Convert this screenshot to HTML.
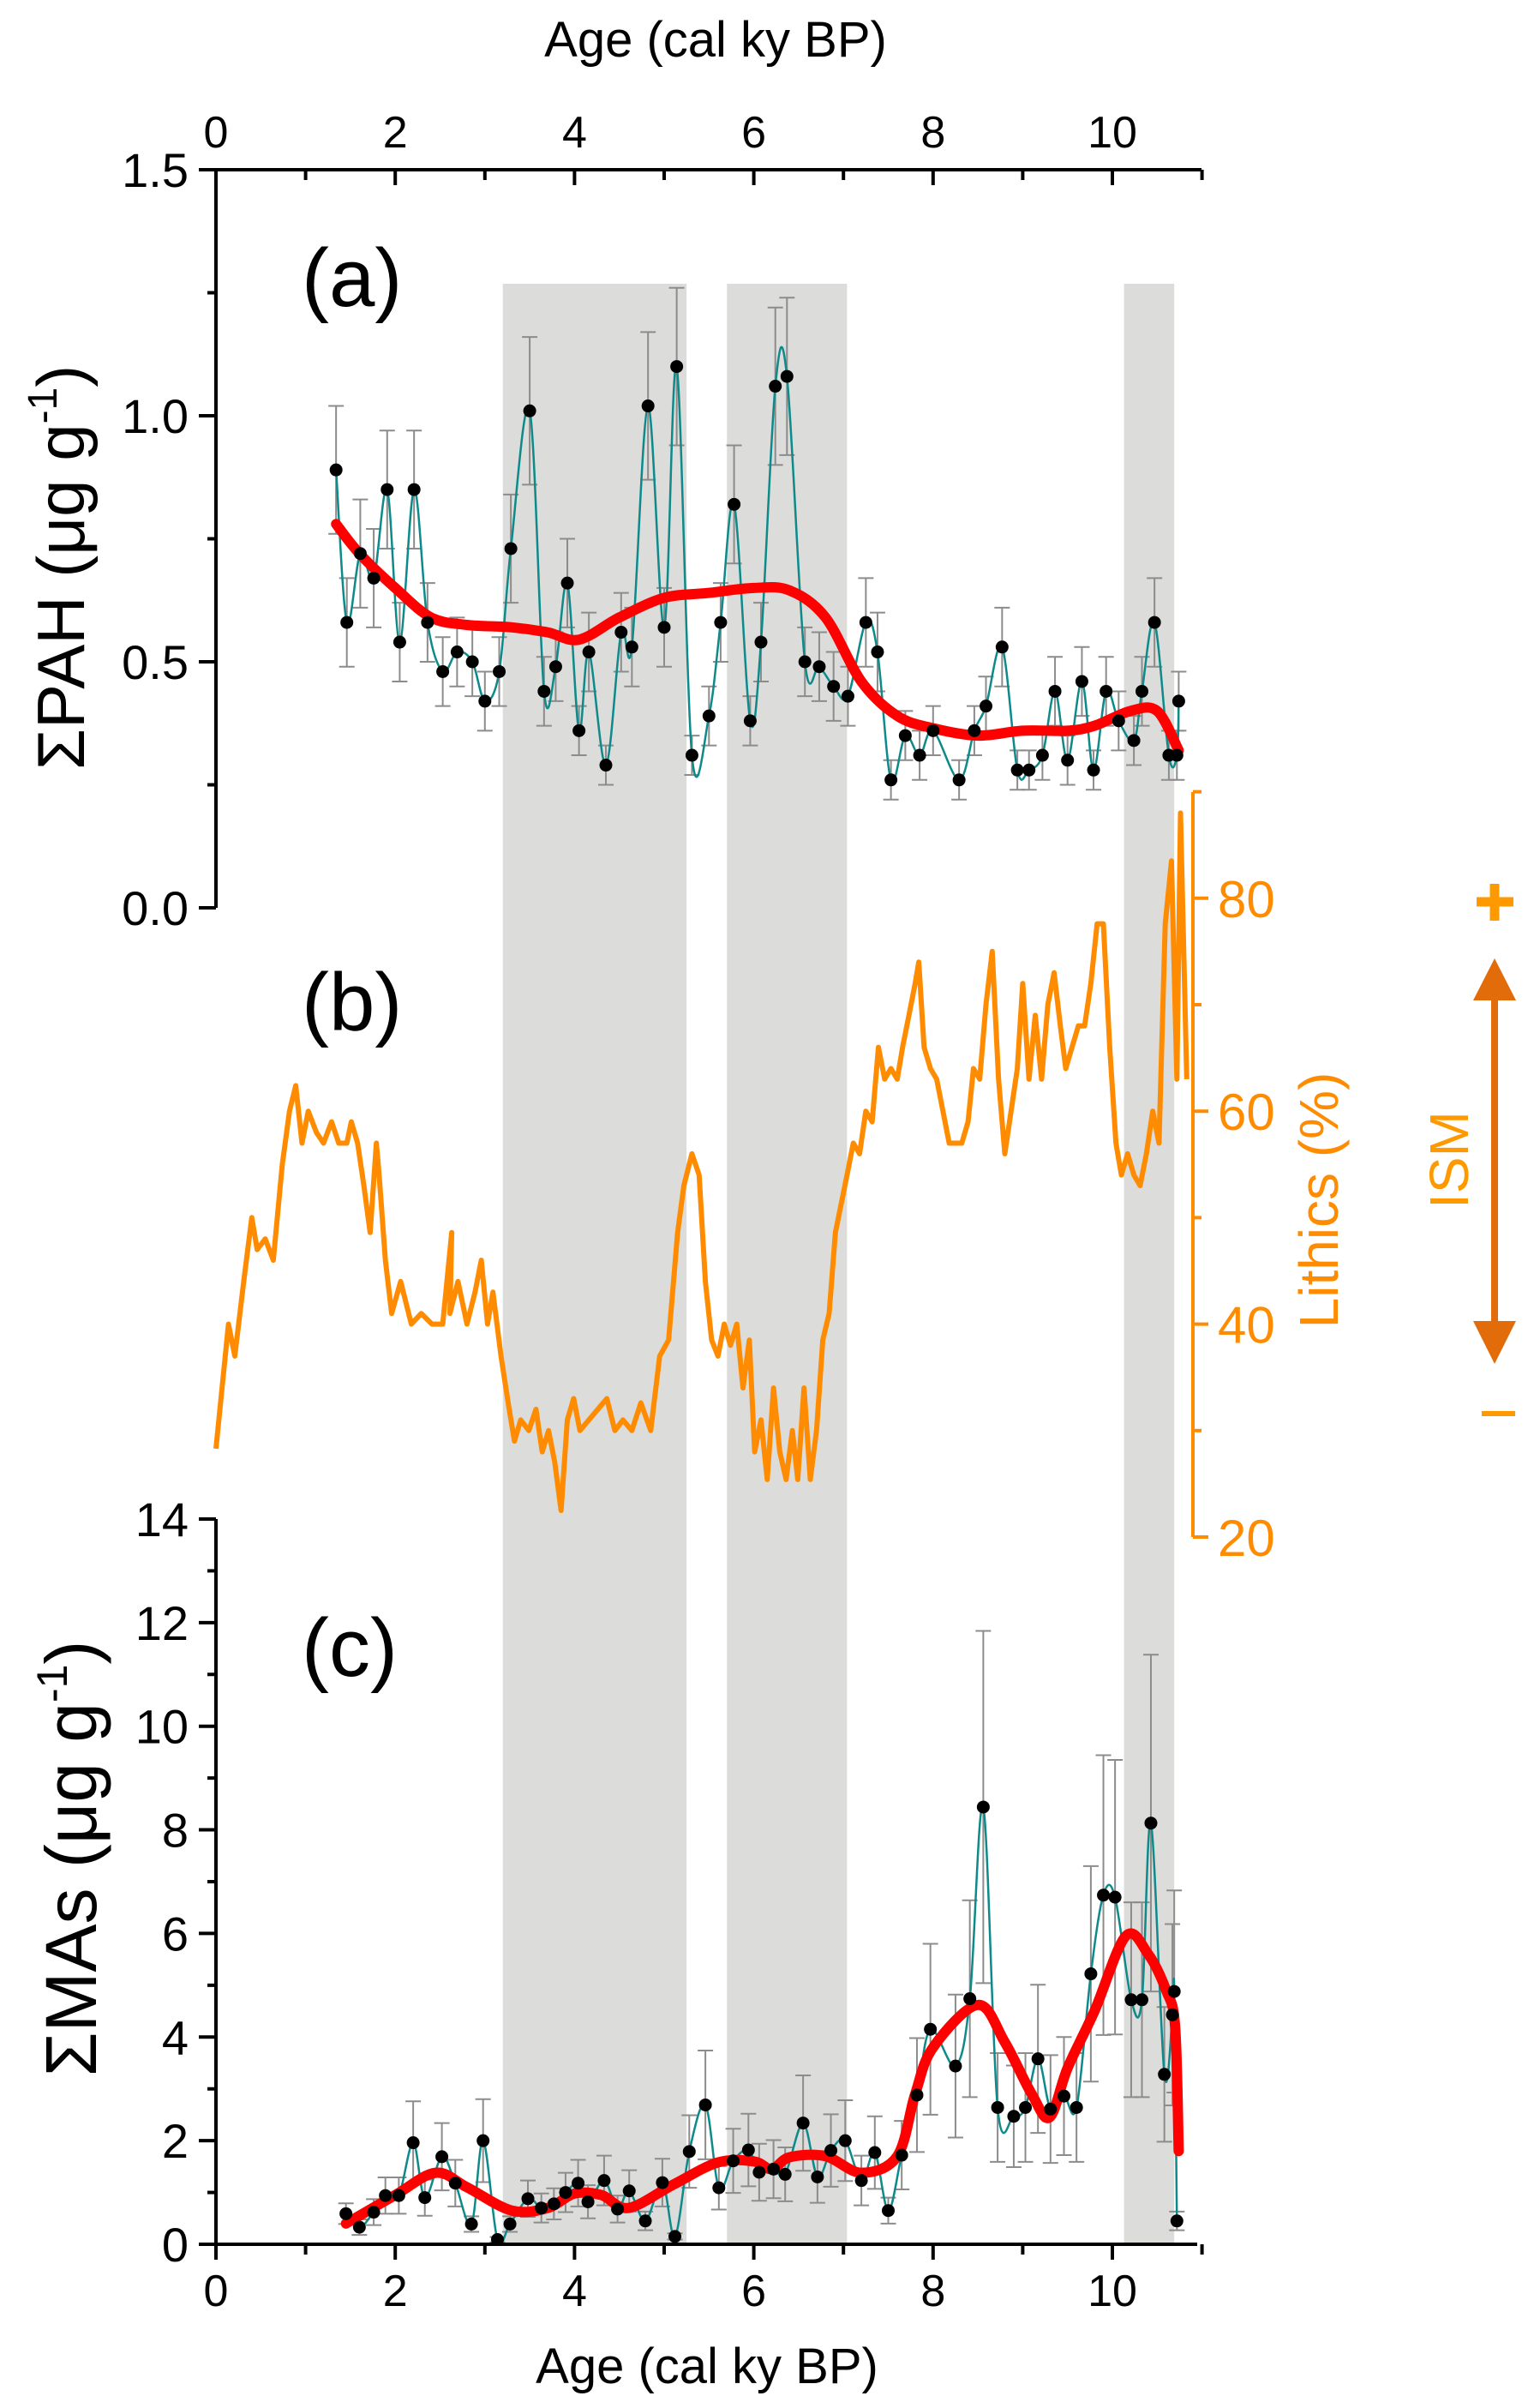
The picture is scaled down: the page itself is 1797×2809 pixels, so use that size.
<!DOCTYPE html>
<html><head><meta charset="utf-8"><style>
html,body{margin:0;padding:0;background:#fff}
svg{display:block}
text{font-family:"Liberation Sans",Arial,sans-serif}
</style></head><body>
<svg id="chart" width="1797" height="2809" viewBox="0 0 1797 2809" xmlns="http://www.w3.org/2000/svg"></svg>
<script>
// ---- data ----
const bandStart = [3.2, 5.7, 10.13];
const bandEnd = [5.25, 7.04, 10.69];
const pahAge = [1.34,1.46,1.61,1.76,1.91,2.05,2.21,2.36,2.53,2.69,2.86,3.0,3.16,3.29,3.5,3.66,3.79,3.92,4.05,4.16,4.35,4.52,4.64,4.82,5.0,5.14,5.31,5.5,5.63,5.78,5.96,6.08,6.24,6.37,6.57,6.73,6.89,7.05,7.25,7.38,7.53,7.69,7.85,8.0,8.29,8.46,8.59,8.77,8.94,9.07,9.22,9.36,9.5,9.66,9.79,9.93,10.07,10.24,10.33,10.47,10.63,10.72,10.74];
const pahVal = [0.89,0.58,0.72,0.67,0.85,0.54,0.85,0.58,0.48,0.52,0.50,0.42,0.48,0.73,1.01,0.44,0.49,0.66,0.36,0.52,0.29,0.56,0.53,1.02,0.57,1.10,0.31,0.39,0.58,0.82,0.38,0.54,1.06,1.08,0.50,0.49,0.45,0.43,0.58,0.52,0.26,0.35,0.31,0.36,0.26,0.36,0.41,0.53,0.28,0.28,0.31,0.44,0.30,0.46,0.28,0.44,0.38,0.34,0.44,0.58,0.31,0.31,0.42];
const pahErr = [0.13,0.09,0.11,0.10,0.12,0.08,0.12,0.08,0.07,0.07,0.07,0.06,0.07,0.11,0.15,0.07,0.07,0.09,0.05,0.08,0.04,0.08,0.08,0.15,0.08,0.16,0.04,0.06,0.08,0.12,0.05,0.08,0.16,0.16,0.07,0.07,0.07,0.06,0.09,0.08,0.04,0.05,0.05,0.05,0.04,0.05,0.06,0.08,0.04,0.04,0.05,0.07,0.05,0.07,0.04,0.07,0.06,0.05,0.07,0.09,0.05,0.05,0.06];
const pahSmoothAge = [1.34,1.6,2.0,2.4,2.8,3.3,3.7,4.05,4.5,5.0,5.5,6.0,6.4,6.8,7.2,7.6,8.0,8.5,9.0,9.5,9.8,10.2,10.5,10.74];
const pahSmoothVal = [0.78,0.72,0.65,0.59,0.575,0.57,0.56,0.545,0.59,0.63,0.64,0.65,0.645,0.59,0.46,0.39,0.365,0.35,0.36,0.36,0.37,0.40,0.40,0.32];
const pahTicks = ["0.0","0.5","1.0","1.5"];
const lithAge = [0,0.14,0.21,0.31,0.40,0.46,0.55,0.64,0.74,0.82,0.89,0.96,1.03,1.12,1.20,1.29,1.37,1.46,1.51,1.58,1.65,1.72,1.79,1.82,1.89,1.96,2.06,2.18,2.29,2.41,2.53,2.63,2.61,2.70,2.80,2.89,2.96,3.03,3.09,3.18,3.26,3.33,3.40,3.49,3.57,3.64,3.71,3.78,3.85,3.92,3.99,4.06,4.16,4.26,4.36,4.45,4.54,4.64,4.74,4.85,4.95,5.05,5.15,5.22,5.31,5.39,5.46,5.53,5.60,5.67,5.74,5.81,5.88,5.95,6.01,6.08,6.15,6.22,6.29,6.36,6.43,6.49,6.56,6.63,6.70,6.77,6.84,6.91,6.98,7.04,7.11,7.18,7.25,7.32,7.39,7.46,7.53,7.60,7.66,7.73,7.80,7.84,7.90,7.97,8.04,8.11,8.18,8.25,8.32,8.39,8.45,8.52,8.59,8.66,8.73,8.80,8.87,8.94,9.00,9.07,9.14,9.21,9.28,9.35,9.42,9.48,9.55,9.62,9.69,9.76,9.83,9.90,9.97,10.04,10.10,10.17,10.24,10.31,10.38,10.45,10.52,10.59,10.66,10.72,10.76,10.83,10.90];
const lithVal = [28.3,40,37,44,50,47,48,46,55,60,62.4,57,60,58,57,59,57,57,59,57,53,48.6,57,54,46,41,44,40,41,40,40,48.6,41,44,40,43,46,40,43,37,32.6,29,31,30,32,28,30,27,22.5,31,33,30,31,32,33,30,31,30,32.6,30,37,38.5,48.6,53,56,54,44,38.5,37,40,38,40,34,38.5,28,31,25.4,34,28,25.4,30,25.4,34,25.4,30,38.5,41,48.6,51.5,54,57,56,60,59,66,63,64,63,66,69,72,74,66,64,63,60,57,57,57,59,64,63,70,75,63,56,60,64,72,63,69,63,70,73,68,64,66,68,68,72,77.6,77.6,66,57,54,56,54,53,56,60,57,77.6,83.5,63,88,63];
const lithTicks = ["20","40","60","80"];
const maAge = [1.45,1.6,1.76,1.89,2.04,2.2,2.33,2.52,2.67,2.85,2.98,3.14,3.28,3.48,3.63,3.77,3.9,4.04,4.15,4.33,4.48,4.61,4.79,4.98,5.12,5.28,5.46,5.61,5.77,5.94,6.06,6.22,6.35,6.55,6.71,6.86,7.02,7.2,7.35,7.5,7.65,7.82,7.97,8.25,8.41,8.56,8.72,8.9,9.03,9.17,9.31,9.46,9.6,9.76,9.9,10.03,10.21,10.33,10.43,10.58,10.67,10.69,10.72];
const maVal = [0.59,0.33,0.62,0.94,0.94,1.96,0.9,1.69,1.18,0.39,2.0,0.09,0.39,0.88,0.7,0.78,1.0,1.18,0.82,1.23,0.68,1.03,0.45,1.19,0.15,1.79,2.69,1.09,1.61,1.82,1.39,1.45,1.35,2.34,1.3,1.81,2.0,1.23,1.77,0.65,1.72,2.88,4.15,3.44,4.74,8.44,2.64,2.47,2.64,3.58,2.61,2.86,2.64,5.22,6.74,6.7,4.72,4.72,8.13,3.28,4.43,4.88,0.45];
const maErr = [0.2,0.15,0.25,0.35,0.35,0.8,0.35,0.65,0.45,0.15,0.8,0.05,0.15,0.35,0.28,0.3,0.38,0.45,0.32,0.48,0.26,0.4,0.18,0.46,0.06,0.7,1.05,0.42,0.62,0.7,0.55,0.56,0.52,0.92,0.5,0.7,0.78,0.48,0.7,0.25,0.66,1.1,1.65,1.38,1.9,3.4,1.05,0.98,1.05,1.43,1.04,1.14,1.05,2.08,2.7,2.65,1.88,1.88,3.25,1.3,1.75,1.95,0.18];
const maSmoothAge = [1.45,2.0,2.45,2.8,3.3,3.7,4.0,4.3,4.6,5.1,5.6,6.0,6.2,6.4,6.8,7.2,7.6,7.8,8.0,8.5,8.8,9.1,9.3,9.5,9.8,10.15,10.4,10.6,10.7,10.74];
const maSmoothVal = [0.4,0.95,1.38,1.1,0.65,0.7,0.98,0.95,0.7,1.15,1.58,1.6,1.45,1.68,1.7,1.38,1.7,2.9,3.8,4.62,3.9,2.9,2.45,3.4,4.5,5.95,5.6,4.9,4.2,1.8];
const maTicks = ["0","2","4","6","8","10","12","14"];
const ageTicks = ["0","2","4","6","8","10"];

// ---- scales ----
const X0=252, KPX=104.6;
const ax = a => X0 + a*KPX;
const yA = v => 1059 - v*574;
const yB = v => 1793 - (v-20)*12.42;
const yC = v => 2618 - v*60.43;

const svg=document.getElementById('chart');
const NS='http://www.w3.org/2000/svg';
function mk(tag, attrs, parent){const e=document.createElementNS(NS,tag);for(const k in attrs)e.setAttribute(k,attrs[k]);(parent||svg).appendChild(e);return e;}
function grp(name){const g=mk('g',{});return g;}
function txt(s,attrs,parent){const t=mk('text',attrs,parent);t.textContent=s;return t;}
function spline(xs,ys){let d='M'+xs[0].toFixed(1)+','+ys[0].toFixed(1);for(let i=0;i<xs.length-1;i++){const x0=xs[Math.max(i-1,0)],y0=ys[Math.max(i-1,0)],x1=xs[i],y1=ys[i],x2=xs[i+1],y2=ys[i+1],x3=xs[Math.min(i+2,xs.length-1)],y3=ys[Math.min(i+2,xs.length-1)];const c1x=x1+(x2-x0)/6,c1y=y1+(y2-y0)/6,c2x=x2-(x3-x1)/6,c2y=y2-(y3-y1)/6;d+=` C${c1x.toFixed(1)},${c1y.toFixed(1)} ${c2x.toFixed(1)},${c2y.toFixed(1)} ${x2.toFixed(1)},${y2.toFixed(1)}`;}return d;}

// bands
const gb=grp('grey-bands');
for(let i=0;i<bandStart.length;i++){const r=mk('rect',{x:ax(bandStart[i]),y:331,width:ax(bandEnd[i])-ax(bandStart[i]),height:2620-331,fill:'#dcdcdb'},gb);}

// panel b lithics
const gl=grp('lithics-series');
const lp=mk('polyline',{points:lithAge.map((a,i)=>ax(a).toFixed(1)+','+yB(lithVal[i]).toFixed(1)).join(' '),fill:'none',stroke:'#ff8c00','stroke-width':6,'stroke-linejoin':'round'},gl);


function scatterPanel(name,ages,vals,errs,sAge,sVal,ys){
  const g=grp(name);
  for(let i=0;i<ages.length;i++){const x=ax(ages[i]);const e=mk('path',{d:`M${x},${ys(vals[i]+errs[i])}V${ys(Math.max(vals[i]-errs[i],0))}M${x-9},${ys(vals[i]+errs[i])}h18M${x-9},${ys(Math.max(vals[i]-errs[i],0))}h18`,stroke:'#8c8c8c','stroke-width':2,fill:'none'},g);}
  const t=mk('path',{d:spline(ages.map(ax),vals.map(ys)),fill:'none',stroke:'#0e8a8a','stroke-width':2.5},g);
  
  const r=mk('path',{d:spline(sAge.map(ax),sVal.map(ys)),fill:'none',stroke:'#ff0000','stroke-width':12,'stroke-linecap':'round','stroke-linejoin':'round'},g);
  
  for(let i=0;i<ages.length;i++){const c=mk('circle',{cx:ax(ages[i]),cy:ys(vals[i]),r:7.5,fill:'#000'},g);}
}
scatterPanel('pah-series',pahAge,pahVal,pahErr,pahSmoothAge,pahSmoothVal,yA);
scatterPanel('mas-series',maAge,maVal,maErr,maSmoothAge,maSmoothVal,yC);

// axes
const AX='stroke:#000;stroke-width:4;fill:none';
const gta=grp('top-x-axis');
mk('path',{d:`M${X0},198H1402`,style:AX},gta);
for(let a=0;a<=11;a++){mk('path',{d:`M${ax(a)},198v${a%2?12:18}`,style:AX},gta);}
ageTicks.forEach(s=>{const t=txt(s,{x:ax(+s),y:172,'font-size':52,'text-anchor':'middle'},gta);});
const tt=txt('Age (cal ky BP)',{x:835,y:66,'font-size':58,'text-anchor':'middle'},gta);

const gya=grp('pah-y-axis');
mk('path',{d:`M${X0},198V1059`,style:AX},gya);
for(let k=0;k<=6;k++){const v=k*0.25;mk('path',{d:`M${X0},${yA(v)}h${k%2?-10:-20}`,style:AX},gya);}
pahTicks.forEach(s=>{const t=txt(s,{x:220,y:yA(+s)+20,'font-size':56,'text-anchor':'end'},gya);});
const ya=mk('text',{transform:'translate(98,662) rotate(-90)','font-size':78,'text-anchor':'middle'},gya);
ya.innerHTML='ΣPAH (μg g<tspan dy="-32" font-size="48">-1</tspan><tspan dy="32">)</tspan>';


const gyb=grp('lithics-y-axis');
mk('path',{d:`M1392,924V1793`,style:'stroke:#ff8c00;stroke-width:4;fill:none'},gyb);
for(let v=20;v<=90;v+=10){mk('path',{d:`M1392,${yB(v)}h${v%20?10:18}`,style:'stroke:#ff8c00;stroke-width:4'},gyb);}
lithTicks.forEach(s=>{const t=txt(s,{x:1421,y:yB(+s)+22,'font-size':60,fill:'#ff8c00'},gyb);});
const lt=txt('Lithics (%)',{transform:'translate(1561,1400) rotate(-90)','font-size':64,'text-anchor':'middle',fill:'#ff8c00'},gyb);


const gyc=grp('mas-y-axis');
mk('path',{d:`M${X0},1772V2618`,style:AX},gyc);
for(let v=0;v<=14;v++){mk('path',{d:`M${X0},${yC(v)}h${v%2?-10:-20}`,style:AX},gyc);}
maTicks.forEach(s=>{const t=txt(s,{x:220,y:yC(+s)+20,'font-size':56,'text-anchor':'end'},gyc);});
const yc=mk('text',{transform:'translate(112,2168) rotate(-90)','font-size':84,'text-anchor':'middle'},gyc);
yc.innerHTML='ΣMAs (μg g<tspan dy="-34" font-size="50">-1</tspan><tspan dy="34">)</tspan>';


const gxc=grp('bottom-x-axis');
mk('path',{d:`M${X0},2618H1397`,style:AX},gxc);
for(let a=0;a<=11;a++){mk('path',{d:`M${ax(a)},2618v${a%2?12:18}`,style:AX},gxc);}
ageTicks.forEach(s=>{const t=txt(s,{x:ax(+s),y:2690,'font-size':52,'text-anchor':'middle'},gxc);});
const bt=txt('Age (cal ky BP)',{x:825,y:2780,'font-size':58,'text-anchor':'middle'},gxc);

// panel labels
[['(a)',357],['(b)',1202],['(c)',1955]].forEach(([s,y])=>{const t=txt(s,{x:352,y:y,'font-size':96},svg);});

// ISM indicator
const gi=grp('ism-indicator');
mk('path',{d:'M1744,1160V1548',stroke:'#e36c0a','stroke-width':8},gi);
mk('polygon',{points:'1744,1118 1769,1167 1719,1167',fill:'#e36c0a'},gi);
mk('polygon',{points:'1744,1591 1769,1541 1719,1541',fill:'#e36c0a'},gi);
mk('path',{d:'M1723,1052h43M1744,1031v43',stroke:'#ff9900','stroke-width':11},gi);
mk('path',{d:'M1729,1649h39',stroke:'#ff9900','stroke-width':6},gi);
const it=txt('ISM',{transform:'translate(1713,1353) rotate(-90)','font-size':64,'text-anchor':'middle',fill:'#ff9900'},gi);

</script>
</body></html>
